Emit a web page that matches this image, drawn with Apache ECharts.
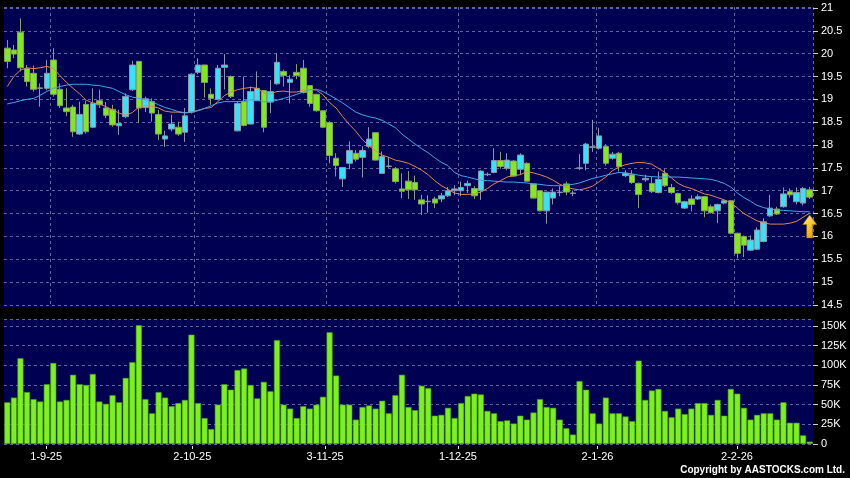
<!DOCTYPE html>
<html><head><meta charset="utf-8">
<script src="https://cdn.jsdelivr.net/npm/echarts@6/dist/echarts.min.js"></script>
<style>html,body{margin:0;padding:0;background:#000}#c{width:850px;height:478px}</style>
</head><body><div id="c"></div>
<script>
const dates = ['22-8-25','25-8-25','26-8-25','27-8-25','28-8-25','29-8-25',
'1-9-25','2-9-25','3-9-25','4-9-25','5-9-25','8-9-25','9-9-25','10-9-25','11-9-25','12-9-25','15-9-25','16-9-25','17-9-25','18-9-25','19-9-25','22-9-25','23-9-25','24-9-25','25-9-25','26-9-25','29-9-25','30-9-25',
'2-10-25','3-10-25','6-10-25','8-10-25','9-10-25','10-10-25','13-10-25','14-10-25','15-10-25','16-10-25','17-10-25','20-10-25','21-10-25','22-10-25','23-10-25','24-10-25','27-10-25','28-10-25','30-10-25','31-10-25',
'3-11-25','4-11-25','5-11-25','6-11-25','7-11-25','10-11-25','11-11-25','12-11-25','13-11-25','14-11-25','17-11-25','18-11-25','19-11-25','20-11-25','21-11-25','24-11-25','25-11-25','26-11-25','27-11-25','28-11-25',
'1-12-25','2-12-25','3-12-25','4-12-25','5-12-25','8-12-25','9-12-25','10-12-25','11-12-25','12-12-25','15-12-25','16-12-25','17-12-25','18-12-25','19-12-25','22-12-25','23-12-25','24-12-25','29-12-25','30-12-25','31-12-25',
'2-1-26','5-1-26','6-1-26','7-1-26','8-1-26','9-1-26','12-1-26','13-1-26','14-1-26','15-1-26','16-1-26','19-1-26','20-1-26','21-1-26','22-1-26','23-1-26','26-1-26','27-1-26','28-1-26','29-1-26','30-1-26',
'2-2-26','3-2-26','4-2-26','5-2-26','6-2-26','9-2-26','10-2-26','11-2-26','12-2-26','13-2-26','16-2-26','20-2-26','23-2-26'];

const tickLabels = ['1-9-25','2-10-25','3-11-25','1-12-25','2-1-26','2-2-26'];

const open = [20.12,20.08,20.47,19.67,19.57,19.24,19.24,19.86,19.22,18.81,18.83,18.24,18.89,18.39,18.97,18.81,18.78,18.42,18.62,19.21,
19.83,18.82,18.95,18.67,18.13,18.35,18.39,18.28,18.72,19.59,19.75,19.11,19.00,19.70,19.50,18.31,18.95,18.46,18.97,19.19,
18.94,19.34,19.61,19.37,19.59,19.68,19.30,19.11,18.75,18.49,17.71,17.26,17.60,17.82,17.73,17.97,18.27,17.38,17.53,17.48,
17.04,17.21,17.18,16.80,16.76,16.82,16.82,16.89,17.00,17.00,17.11,17.05,17.00,17.35,17.40,17.66,17.49,17.65,17.47,17.60,
17.15,17.00,16.56,16.84,16.96,17.15,16.94,17.49,17.60,17.95,17.93,17.97,17.71,17.82,17.33,17.35,17.16,17.24,17.16,16.96,
17.38,17.07,16.94,16.62,16.82,16.82,16.87,16.65,16.56,16.73,16.78,16.07,16.00,15.70,15.72,15.89,16.45,16.60,16.65,16.98,
16.76,16.73,17.02];
const close = [19.83,19.99,19.69,19.39,19.22,19.25,19.57,19.11,18.86,18.73,18.29,18.67,18.29,18.91,18.88,18.65,18.44,18.47,19.06,19.75,
18.81,19.01,18.70,18.24,18.20,18.46,18.24,18.64,19.55,19.75,19.37,19.02,19.68,19.75,19.06,18.91,18.43,19.17,19.24,18.39,
19.17,19.81,19.52,19.44,19.52,19.15,18.91,18.75,18.39,17.77,17.55,17.51,17.88,17.69,17.88,18.13,17.67,17.75,17.54,17.20,
16.99,17.02,17.02,16.71,16.77,16.73,16.89,17.00,17.04,17.07,17.16,16.89,17.43,17.36,17.66,17.53,17.67,17.32,17.78,17.21,
16.84,16.56,16.97,16.97,16.97,16.97,16.95,17.50,18.02,17.96,18.20,17.60,17.80,17.53,17.38,17.18,16.92,17.27,16.98,17.25,
17.11,16.96,16.74,16.76,16.70,16.87,16.56,16.52,16.70,16.78,16.07,15.63,15.81,15.92,16.14,16.32,16.62,16.49,16.93,16.91,
16.96,17.05,16.86];
const low = [19.68,19.90,19.61,19.28,19.17,18.84,19.20,19.06,18.81,18.63,18.18,18.22,18.25,18.37,18.81,18.59,18.40,18.22,18.59,19.18,
18.48,18.72,18.51,18.11,17.96,18.30,18.20,18.07,18.69,19.55,19.04,18.88,18.98,19.22,19.03,18.30,18.41,18.45,18.96,18.28,
18.70,19.32,19.28,18.91,19.44,19.13,18.84,18.73,18.37,17.60,17.31,17.08,17.47,17.64,17.29,17.93,17.66,17.37,17.50,17.16,
16.84,16.82,16.80,16.47,16.52,16.62,16.75,16.86,16.90,16.88,16.95,16.82,16.80,17.32,17.38,17.48,17.45,17.30,17.35,17.20,
16.83,16.55,16.28,16.70,16.88,16.90,16.88,17.45,17.45,17.85,17.90,17.55,17.68,17.42,17.30,17.15,16.62,17.20,16.95,16.94,
17.08,16.93,16.70,16.60,16.55,16.80,16.42,16.50,16.29,16.70,16.05,15.52,15.55,15.68,15.70,15.87,16.43,16.47,16.63,16.85,
16.70,16.68,16.82];
const high = [20.30,20.19,20.77,19.75,19.74,19.35,19.86,20.12,19.35,19.24,18.88,18.95,18.97,19.24,19.21,18.94,18.88,18.77,19.13,19.84,
19.84,19.06,19.02,18.77,18.31,18.66,18.51,18.81,19.57,19.90,19.76,19.24,19.75,19.99,19.52,18.96,19.50,19.28,19.61,19.20,
19.42,20.01,19.65,19.53,19.77,19.86,19.31,19.12,18.76,18.52,17.82,17.52,18.08,17.89,17.97,18.39,18.28,17.86,17.74,17.52,
17.38,17.43,17.33,16.91,16.90,16.87,16.95,17.08,17.12,17.20,17.22,17.10,17.45,17.40,17.93,17.85,17.82,17.67,17.82,17.62,
17.15,17.00,16.97,17.05,17.10,17.20,17.00,17.80,18.05,18.55,18.38,18.02,17.85,17.85,17.45,17.45,17.18,17.35,17.30,17.42,
17.47,17.15,16.96,16.78,16.90,16.92,16.88,16.70,16.72,16.80,16.80,16.08,16.02,16.02,16.20,16.40,16.91,16.65,17.07,17.05,
17.07,17.08,17.08];

const maShort = [19.28,19.50,19.64,19.69,19.67,19.69,19.72,19.68,19.52,19.37,19.24,19.12,18.98,18.92,18.90,18.84,18.77,18.70,18.65,18.71,
18.83,18.86,18.85,18.81,18.74,18.72,18.72,18.70,18.72,18.75,18.80,18.82,18.95,19.08,19.16,19.21,19.24,19.26,19.24,19.14,
19.12,19.17,19.18,19.16,19.16,19.20,19.22,19.20,19.10,18.93,18.81,18.62,18.45,18.30,18.12,17.98,17.87,17.78,17.73,17.67,
17.64,17.60,17.53,17.45,17.35,17.22,17.11,17.03,16.95,16.92,16.92,16.93,16.97,17.05,17.15,17.22,17.30,17.33,17.35,17.42,
17.39,17.35,17.30,17.23,17.14,17.08,17.04,17.02,17.05,17.10,17.20,17.30,17.44,17.52,17.57,17.60,17.62,17.61,17.58,17.49,
17.40,17.28,17.16,17.09,17.05,16.99,16.93,16.90,16.85,16.80,16.74,16.62,16.50,16.42,16.34,16.30,16.27,16.27,16.27,16.29,
16.33,16.42,16.51];
const maLong = [18.90,18.93,18.97,19.00,19.02,19.09,19.17,19.24,19.28,19.31,19.33,19.33,19.33,19.31,19.30,19.27,19.24,19.17,19.10,19.05,
19.02,18.99,18.95,18.88,18.82,18.78,18.73,18.71,18.72,18.76,18.80,18.86,18.92,18.95,18.95,18.95,18.96,18.99,18.98,18.95,
18.94,18.98,19.02,19.06,19.11,19.16,19.21,19.22,19.17,19.09,19.01,18.92,18.82,18.72,18.66,18.62,18.59,18.54,18.46,18.38,
18.24,18.13,18.02,17.92,17.83,17.72,17.62,17.55,17.40,17.33,17.30,17.26,17.23,17.22,17.21,17.20,17.19,17.19,17.18,17.17,
17.15,17.14,17.12,17.11,17.11,17.12,17.14,17.17,17.22,17.27,17.30,17.34,17.37,17.40,17.39,17.37,17.34,17.32,17.31,17.30,
17.30,17.30,17.30,17.29,17.28,17.27,17.26,17.25,17.21,17.16,17.08,16.95,16.85,16.77,16.68,16.63,16.60,16.58,16.57,16.56,
16.55,16.54,16.54];

const volumeK = [53,59,109,66,57,54,76,103,54,56,88,76,75,89,54,51,62,53,84,104,
151,57,39,66,59,48,52,56,139,52,33,19,50,76,69,94,96,75,58,79,
67,132,50,45,33,48,45,50,60,142,87,50,50,31,47,49,45,55,39,62,
88,47,43,74,71,36,37,46,33,52,61,64,63,42,39,29,30,26,36,31,
40,57,47,46,31,20,12,80,69,39,26,59,39,39,35,29,106,56,68,70,
42,34,45,38,45,52,52,37,56,36,70,64,46,31,37,39,39,31,53,27,
27,11,3];

const priceMin = 14.5, priceTop = 21.02, priceStep = 0.5;
const volMax = 158.9, volStep = 25;

const NAVY = '#000052';
const GRIDC = '#6262a0';
const UP = '#38e0f8', DOWN = '#80ea1c';
const FONT = 'Arial, "Liberation Sans", sans-serif';

const candles = dates.map((d, i) => [open[i], close[i], low[i], high[i]]);
const isLabel = (idx, val) => tickLabels.indexOf(val) >= 0;
const gridAfterLabel = (idx) => idx > 0 && tickLabels.indexOf(dates[idx - 1]) >= 0;

const chart = echarts.init(document.getElementById('c'), null, {renderer: 'canvas'});
chart.setOption({
  backgroundColor: '#000',
  animation: false,
  graphic: [
    {type: 'rect', z: -100, shape: {x: 4, y: 7, width: 809, height: 300}, style: {fill: NAVY}},
    {type: 'rect', z: -100, shape: {x: 4, y: 319, width: 809, height: 125}, style: {fill: NAVY}},
    {type: 'text', right: 5, top: 465, style: {text: 'Copyright by AASTOCKS.com Ltd.', fill: '#fff', font: 'bold 10px ' + FONT}}
  ],
  grid: [
    {left: 4, width: 809, top: 7, height: 298, outerBoundsMode: 'none'},
    {left: 4, width: 809, top: 319, height: 125, outerBoundsMode: 'none'},
    {left: 3, width: 817, top: 444, height: 2, outerBoundsMode: 'none'}
  ],
  xAxis: [
    {type: 'category', gridIndex: 0, data: dates, boundaryGap: true,
     axisLine: {show: false}, axisTick: {show: false}, axisLabel: {show: false},
     splitLine: {show: true, interval: gridAfterLabel, lineStyle: {color: GRIDC, type: [3, 3], width: 1}}},
    {type: 'category', gridIndex: 1, data: dates, boundaryGap: true,
     axisLine: {show: false}, axisTick: {show: false}, axisLabel: {show: false}, splitLine: {show: false}},
    {type: 'category', gridIndex: 2, data: dates, boundaryGap: true,
     axisLine: {show: false},
     axisTick: {show: true, alignWithLabel: true, interval: isLabel, length: 3, lineStyle: {color: '#ddd'}},
     axisLabel: {show: true, interval: isLabel, color: '#fff', fontSize: 11, fontFamily: FONT, margin: 5},
     splitLine: {show: false}}
  ],
  yAxis: [
    {type: 'value', gridIndex: 0, position: 'right', min: priceMin, max: priceTop, interval: priceStep,
     axisLine: {show: false}, axisTick: {show: true, length: 5, lineStyle: {color: '#ccc'}},
     axisLabel: {color: '#fff', fontSize: 11, fontFamily: FONT, margin: 8, showMaxLabel: false},
     splitLine: {show: true, lineStyle: {color: GRIDC, type: [3, 3], width: 1}}},
    {type: 'value', gridIndex: 1, position: 'right', min: 0, max: volMax, interval: volStep,
     axisLine: {show: false}, axisTick: {show: true, length: 5, lineStyle: {color: '#ccc'}},
     axisLabel: {color: '#fff', fontSize: 11, fontFamily: FONT, margin: 8, showMaxLabel: false,
       formatter: v => v === 0 ? '0' : v + 'K'},
     splitLine: {show: true, lineStyle: {color: GRIDC, type: [3, 3], width: 1}}},
    {type: 'value', gridIndex: 2, show: false, min: 0, max: 1}
  ],
  series: [
    {type: 'candlestick', xAxisIndex: 0, yAxisIndex: 0, data: candles, barWidth: 6, z: 3,
     itemStyle: {color: UP, color0: DOWN, borderColor: '#8c96a8', borderColor0: '#86a060', borderColorDoji: '#a0a8b8', borderWidth: 1},
     markPoint: {silent: true, data: [{coord: [dates[dates.length - 1], 16.22],
       symbol: 'path://M7,0 L14,10 L10,10 L10,24 L4,24 L4,10 L0,10 Z', symbolSize: [14, 23],
       itemStyle: {color: new echarts.graphic.LinearGradient(0, 0, 1, 1, [{offset: 0, color: '#fff2a0'}, {offset: 0.5, color: '#f8c820'}, {offset: 1, color: '#d89000'}]),
         borderColor: '#b07800', borderWidth: 0.5},
       label: {show: false}}]}},
    {type: 'line', xAxisIndex: 0, yAxisIndex: 0, data: maShort, symbol: 'none', z: 4,
     lineStyle: {color: '#e08850', width: 1}},
    {type: 'line', xAxisIndex: 0, yAxisIndex: 0, data: maLong, symbol: 'none', z: 4,
     lineStyle: {color: '#42a6ea', width: 1}},
    {type: 'bar', xAxisIndex: 1, yAxisIndex: 1, data: volumeK, barWidth: 6,
     itemStyle: {color: '#7ef01e', borderColor: '#46a014', borderWidth: 0.6}}
  ]
});
</script></body></html>
